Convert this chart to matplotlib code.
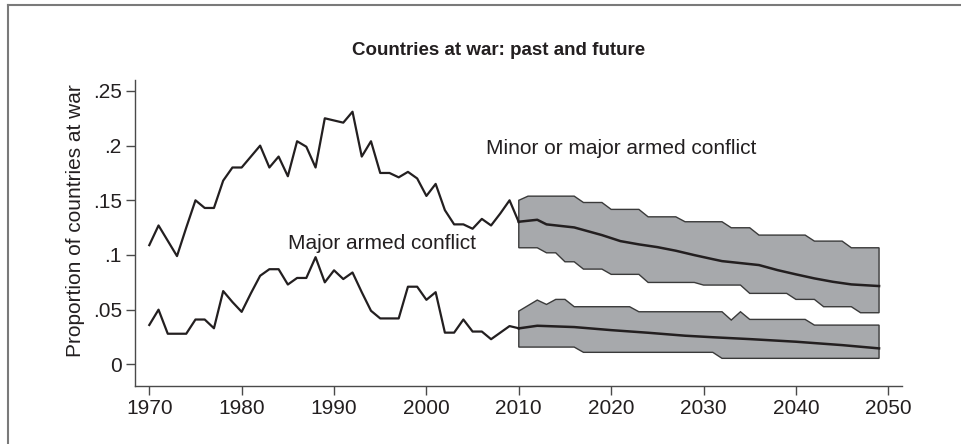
import numpy as np
import matplotlib
matplotlib.use("Agg")
import matplotlib.pyplot as plt
from matplotlib.lines import Line2D

plt.rcParams['font.family'] = ['Liberation Sans', 'DejaVu Sans']

# observed proportions, 1970-2010
years_hist = list(range(1970, 2011))
any_conflict = [0.109, 0.127, 0.113, 0.099, 0.125, 0.150, 0.143, 0.143, 0.168, 0.180,
                0.180, 0.190, 0.200, 0.180, 0.190, 0.172, 0.204, 0.199, 0.180, 0.225,
                0.223, 0.221, 0.231, 0.190, 0.204, 0.175, 0.175, 0.171, 0.176, 0.170,
                0.154, 0.165, 0.141, 0.128, 0.128, 0.124, 0.133, 0.127, 0.138, 0.150,
                0.130]
major_conflict = [0.036, 0.050, 0.028, 0.028, 0.028, 0.041, 0.041, 0.033, 0.067, 0.057,
                  0.048, 0.065, 0.081, 0.087, 0.087, 0.073, 0.079, 0.079, 0.098, 0.075,
                  0.086, 0.078, 0.084, 0.066, 0.049, 0.042, 0.042, 0.042, 0.071, 0.071,
                  0.059, 0.066, 0.029, 0.029, 0.041, 0.030, 0.030, 0.023, 0.029, 0.035,
                  0.033]

# forecast means
any_mean_yr = [2010, 2012, 2013, 2016, 2019, 2021, 2023, 2025, 2027, 2029, 2031,
               2032, 2036, 2038, 2040, 2042, 2044, 2046, 2049]
any_mean = [0.1304, 0.1322, 0.128, 0.1252, 0.1182, 0.1127, 0.1097, 0.1072, 0.1039,
            0.0999, 0.0962, 0.0944, 0.0908, 0.0862, 0.0823, 0.0786, 0.0755, 0.0731, 0.0716]
maj_mean_yr = [2010, 2012, 2016, 2020, 2024, 2028, 2031, 2035, 2040, 2045, 2049]
maj_mean = [0.0329, 0.0353, 0.0341, 0.0313, 0.0289, 0.0262, 0.0248, 0.0231, 0.0207,
            0.0176, 0.0146]

# forecast intervals (upper / lower edges)
any_hi_yr = [2010, 2011, 2016, 2017, 2019, 2020, 2023, 2024, 2027, 2028, 2032, 2033,
             2035, 2036, 2041, 2042, 2045, 2046, 2049]
any_hi = [0.150, 0.1538, 0.1538, 0.148, 0.148, 0.1417, 0.1417, 0.1349, 0.1349, 0.1304,
          0.1304, 0.1249, 0.1249, 0.1182, 0.1182, 0.1127, 0.1127, 0.1066, 0.1066]
any_lo_yr = [2010, 2012, 2013, 2014, 2015, 2016, 2017, 2019, 2020, 2023, 2024, 2029,
             2030, 2034, 2035, 2039, 2040, 2042, 2043, 2046, 2047, 2049]
any_lo = [0.1066, 0.1066, 0.102, 0.102, 0.0938, 0.0938, 0.0871, 0.0871, 0.0823, 0.0823,
          0.0749, 0.0749, 0.0725, 0.0725, 0.0649, 0.0649, 0.0594, 0.0594, 0.0527, 0.0527,
          0.0472, 0.0472]
maj_hi_yr = [2010, 2012, 2013, 2014, 2015, 2016, 2022, 2023, 2032, 2033, 2034, 2035,
             2041, 2042, 2049]
maj_hi = [0.0487, 0.0588, 0.0548, 0.0594, 0.0594, 0.0527, 0.0527, 0.0481, 0.0481, 0.0405,
          0.0481, 0.0411, 0.0411, 0.0359, 0.0359]
maj_lo_yr = [2010, 2016, 2017, 2031, 2032, 2049]
maj_lo = [0.0158, 0.0158, 0.011, 0.011, 0.0055, 0.0055]

ink = '#231f20'
band = '#a7a9ac'

fig = plt.figure(figsize=(9.62, 4.44), dpi=100)
ax = fig.add_axes([0.1403, 0.1306, 0.797, 0.6892])

def draw_band(hi_x, hi_y, lo_x, lo_y):
    xs = list(hi_x) + list(lo_x[::-1])
    ys = list(hi_y) + list(lo_y[::-1])
    ax.fill(xs, ys, facecolor=band, edgecolor='#3a3a3a', linewidth=1.0, zorder=1)

draw_band(any_hi_yr, any_hi, any_lo_yr, any_lo)
draw_band(maj_hi_yr, maj_hi, maj_lo_yr, maj_lo)

ax.plot(years_hist, any_conflict, color=ink, lw=1.6, zorder=3)
ax.plot(years_hist, major_conflict, color=ink, lw=1.6, zorder=3)
ax.plot(any_mean_yr, any_mean, color=ink, lw=1.8, zorder=3)
ax.plot(maj_mean_yr, maj_mean, color=ink, lw=1.8, zorder=3)

ax.text(2006.5, 0.1974, 'Minor or major armed conflict', fontsize=15, color=ink, va='center')
ax.text(1985.0, 0.1106, 'Major armed conflict', fontsize=15, color=ink, va='center')

ax.set_xlim(1968.45, 2051.45)
ax.set_ylim(-0.0198, 0.26)
ax.set_xticks(range(1970, 2051, 10))
ax.set_yticks([0, 0.05, 0.1, 0.15, 0.2, 0.25])
ax.set_yticklabels(['0', '.05', '.1', '.15', '.2', '.25'])

for s in ['top', 'right']:
    ax.spines[s].set_visible(False)
for s in ['left', 'bottom']:
    ax.spines[s].set_color('#4a4a4a')
    ax.spines[s].set_linewidth(1.0)
ax.tick_params(length=6.5, width=1.0, color='#4a4a4a', labelsize=15, labelcolor=ink, pad=3)

fig.text(76 / 962, 1 - 221 / 444, 'Proportion of countries at war', rotation=90,
         fontsize=15, color=ink, ha='center', va='center')
fig.text(498.5 / 962, 1 - 55 / 444, 'Countries at war: past and future', fontsize=13.5,
         fontweight='bold', color=ink, ha='center', va='baseline')

# outer frame (top and left edges)
fig.add_artist(Line2D([8 / 962, 1.0], [1 - 5.5 / 444, 1 - 5.5 / 444], color='#7a7a7a', lw=1.5))
fig.add_artist(Line2D([8 / 962, 8 / 962], [0, 1 - 5.5 / 444], color='#7a7a7a', lw=1.5))

fig.savefig('out.png', dpi=100)
